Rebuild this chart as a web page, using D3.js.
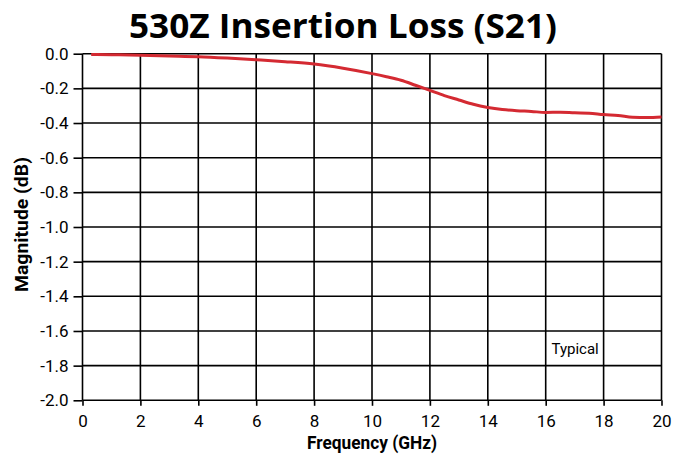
<!DOCTYPE html>
<meta charset="utf-8">
<style>
body { margin: 0; background: #fff; }
text { font-family: "Liberation Sans Narrow", "Roboto", sans-serif; fill: #000; }
.title { font-family: "Open Sans", sans-serif; font-weight: 700; font-size: 34px; }
.label { font-weight: bold; font-size: 17.5px; }
.tick text { font-size: 17px; }
</style>
<svg width="673" height="455"></svg>
<script src="https://d3js.org/d3.v7.min.js"></script>
<script>

// frequency (GHz) and magnitude (dB)
var freq = [0.3, 1, 2, 3, 4, 5, 6, 7, 8, 9, 10, 10.5, 11, 11.5, 12, 12.5, 13, 13.5, 14, 14.5, 15, 15.5, 16, 16.5, 17, 17.5, 18, 18.5, 19, 19.5, 20];
var mag  = [-0.004, -0.006, -0.009, -0.013, -0.017, -0.025, -0.035, -0.046, -0.06, -0.084, -0.115, -0.133, -0.153, -0.182, -0.212, -0.242, -0.267, -0.292, -0.31, -0.322, -0.329, -0.333, -0.339, -0.338, -0.341, -0.343, -0.351, -0.356, -0.366, -0.368, -0.365];

var xTicks = [0, 2, 4, 6, 8, 10, 12, 14, 16, 18, 20];
var yTicks = [0, -0.2, -0.4, -0.6, -0.8, -1.0, -1.2, -1.4, -1.6, -1.8, -2.0];

var svg = d3.select("svg");

var x = d3.scaleLinear().domain([0, 20]).range([82.5, 661.5]);
var y = d3.scaleLinear().domain([-2, 0]).range([400.3, 53.7]);

// grid
var grid = svg.append("g");
grid.selectAll("line.v")
    .data(xTicks)
  .enter().append("line")
    .attr("x1", function(d) { return x(d); })
    .attr("x2", function(d) { return x(d); })
    .attr("y1", y(0))
    .attr("y2", y(-2))
    .attr("stroke", "#000")
    .attr("stroke-width", 1.6);
grid.selectAll("line.h")
    .data(yTicks)
  .enter().append("line")
    .attr("x1", x(0))
    .attr("x2", x(20))
    .attr("y1", function(d) { return y(d); })
    .attr("y2", function(d) { return y(d); })
    .attr("stroke", "#000")
    .attr("stroke-width", 1.6);

// axes
svg.append("g")
    .attr("transform", "translate(" + x(0) + ",0)")
    .call(d3.axisLeft(y).tickValues(yTicks).tickSize(9).tickPadding(5)
      .tickFormat(function(d) { return d.toFixed(1); }));

svg.append("g")
    .attr("transform", "translate(0," + y(-2) + ")")
    .call(d3.axisBottom(x).tickValues(xTicks).tickSize(5.5).tickPadding(9)
      .tickFormat(function(d) { return d; }));

svg.selectAll(".domain").remove();
svg.selectAll(".tick line").attr("stroke", "#000").attr("stroke-width", 1.6);
svg.selectAll(".tick text").attr("fill", "#000");

// trace
var line = d3.line()
    .x(function(d, i) { return x(freq[i]); })
    .y(function(d) { return y(d); })
    .curve(d3.curveMonotoneX);

svg.append("path")
    .datum(mag)
    .attr("d", line)
    .attr("fill", "none")
    .attr("stroke", "#d42a32")
    .attr("stroke-width", 3);

// text
svg.append("text")
    .attr("class", "title")
    .attr("x", 129)
    .attr("y", 37.5)
    .attr("textLength", 428)
    .attr("lengthAdjust", "spacingAndGlyphs")
    .text("530Z Insertion Loss (S21)");

svg.append("text")
    .attr("class", "label")
    .attr("text-anchor", "middle")
    .attr("x", 372)
    .attr("y", 449)
    .attr("textLength", 130)
    .attr("lengthAdjust", "spacingAndGlyphs")
    .text("Frequency (GHz)");

svg.append("text")
    .attr("class", "label")
    .attr("text-anchor", "middle")
    .attr("transform", "translate(28,224.5) rotate(-90)")
    .attr("textLength", 135)
    .attr("lengthAdjust", "spacingAndGlyphs")
    .text("Magnitude (dB)");

svg.append("text")
    .attr("x", x(16.2))
    .attr("y", y(-1.7) + 6)
    .style("font-size", "15px")
    .text("Typical");

</script>
